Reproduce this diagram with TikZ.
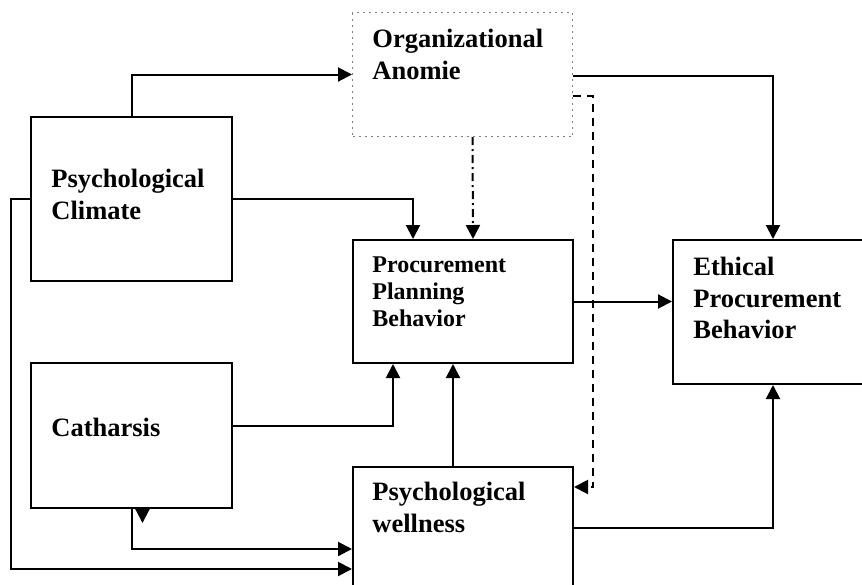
\documentclass[tikz,border=0pt]{standalone}
\usepackage{fontspec}
\setmainfont{Liberation Serif}
\usetikzlibrary{arrows.meta,calc}

\begin{document}
\begin{tikzpicture}[x=0.5pt,y=-0.5pt]
			\tikzstyle{block}=[draw, line width=1pt, rectangle, inner sep=0pt, anchor=north west]
			\tikzstyle{vague}=[block, draw=gray, dotted, line width=0.5pt]
			\tikzstyle{caption}=[anchor=north west, align=left, inner sep=0pt, font=\fontsize{13.25}{15.75}\selectfont\bfseries]
			\tikzstyle{smallcaption}=[caption, font=\fontsize{12}{13.5}\selectfont\bfseries]
			\tikzstyle{arrow}=[draw, line width=1pt, -{Triangle[length=7pt,width=7pt]}]
			\tikzstyle{dasharrow}=[arrow, dash pattern=on 4pt off 3pt]
			\tikzstyle{dotarrow}=[arrow, dash pattern=on 4pt off 2pt on 1pt off 2pt]
			\newcommand\Xleft{30}
			\newcommand\Xmid{352}
			\newcommand\Xright{672}

			\useasboundingbox (0,0) rectangle (862,584);

			 % Anomie
			\node [vague, minimum width=110pt, minimum height=62pt] at (\Xmid,12) (OA) {};
			\node [caption] at (372,29) (OAtext) {Organizational\\Anomie};

			 % Climate and catharsis
			\node [block, minimum width=100.5pt, minimum height=82pt] at (\Xleft,116) (PC) {};
			\node [caption] at (51,169) (PCtext) {Psychological\\Climate};
			\node [block, minimum width=100.5pt, minimum height=72.5pt] at (\Xleft,362) (Cat) {};
			\node [caption] at (51,418) (Cattext) {Catharsis};

			 % Planning and wellness
			\node [block, minimum width=110pt, minimum height=61.5pt] at (\Xmid,239) (PPB) {};
			\node [smallcaption] at (372,256) (PPBtext) {Procurement\\Planning\\Behavior};
			\node [block, minimum width=110pt, minimum height=61pt] at (\Xmid,466) (Wel) {};
			\node [caption] at (372,482) (Weltext) {Psychological\\wellness};

			 % Ethical behavior
			\node [block, minimum width=100pt, minimum height=72pt] at (\Xright,239) (Eth) {};
			\node [caption] at (693,257) (Ethtext) {Ethical\\Procurement\\Behavior};

			 % Path Arrows
			\path [arrow] (PC.north) |- (OA.west);
			\path [arrow] ($(OA.east)+(0,1)$) -| (Eth.north);
			\path [dasharrow] ($(OA.east)+(0,21)$) -- ++(20,0) |- ($(Wel.north east)+(0,21)$);
			\path [dotarrow] ($(OA.south)+(10,0)$) -- ($(PPB.north)+(10,0)$);

			\path [arrow] (PC.east) -| ($(PPB.north)+(-50,0)$);
			\path [arrow] (PC.west) -- ++(-19,0) |- ($(Wel.west)+(0,41)$);

			\path [arrow] ($(Cat.east)+(0,-10)$) -| ($(PPB.south)+(-70,0)$);
			\path [arrow] (Cat.south) |- ($(Wel.west)+(0,21)$);
			\coordinate (CatTip) at ($(Cat.south)+(11,14)$);
			\path [arrow] ($(Cat.south)+(11,0)$) -- (CatTip);

			\path [arrow] ($(Wel.north)+(-10,0)$) -- ($(PPB.south)+(-10,0)$);
			\path [arrow] (PPB.east) -- (PPB.east -| Eth.west);
			\path [arrow] (Wel.east) -| (Eth.south);

		\end{tikzpicture}
\end{document}
